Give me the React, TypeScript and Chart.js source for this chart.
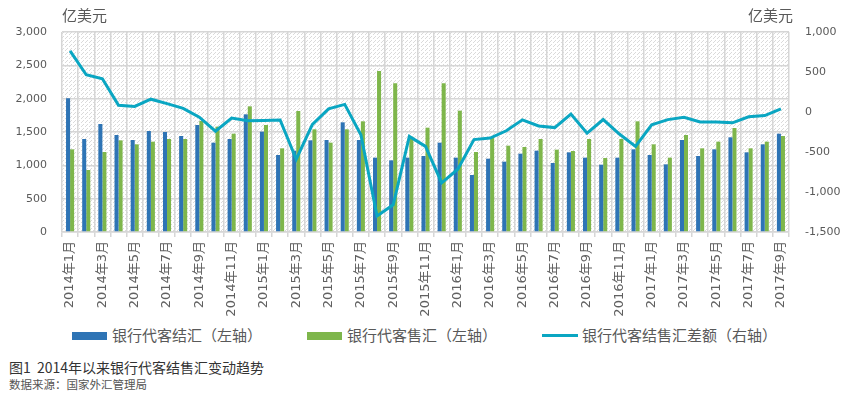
import React, { useEffect, useRef } from "react";
import { Chart, registerables } from "chart.js";

Chart.register(...registerables);

const months: string[] = [
  "2014年1月","2014年2月","2014年3月","2014年4月","2014年5月","2014年6月","2014年7月","2014年8月","2014年9月","2014年10月","2014年11月","2014年12月",
  "2015年1月","2015年2月","2015年3月","2015年4月","2015年5月","2015年6月","2015年7月","2015年8月","2015年9月","2015年10月","2015年11月","2015年12月",
  "2016年1月","2016年2月","2016年3月","2016年4月","2016年5月","2016年6月","2016年7月","2016年8月","2016年9月","2016年10月","2016年11月","2016年12月",
  "2017年1月","2017年2月","2017年3月","2017年4月","2017年5月","2017年6月","2017年7月","2017年8月","2017年9月",
];

// 银行代客结汇（左轴）
const settlement: number[] = [
  2005, 1395, 1620, 1455, 1380, 1515, 1500, 1440, 1605, 1340, 1395, 1765,
  1505, 1155, 1220, 1375, 1380, 1645, 1380, 1115, 1075, 1115, 1140, 1340,
  1115, 855, 1100, 1055, 1175, 1220, 1035, 1195, 1115, 1010, 1115, 1240,
  1155, 1015, 1380, 1140, 1240, 1420, 1195, 1315, 1475,
];

// 银行代客售汇（左轴）
const sales: number[] = [
  1240, 930, 1200, 1375, 1315, 1355, 1395, 1395, 1665, 1580, 1475, 1885,
  1605, 1255, 1815, 1540, 1340, 1540, 1660, 2415, 2230, 1430, 1565, 2230,
  1820, 1200, 1420, 1295, 1275, 1395, 1235, 1215, 1395, 1110, 1395, 1660,
  1315, 1115, 1455, 1255, 1355, 1560, 1255, 1355, 1440,
];

// 银行代客结售汇差额（右轴）
const balance: number[] = [
  765, 465, 415, 85, 70, 160, 105, 45, -65, -240, -75, -110,
  -105, -100, -590, -155, 40, 95, -285, -1300, -1160, -305, -430, -885,
  -715, -345, -325, -235, -98, -175, -195, -25, -265, -95, -275, -430,
  -160, -95, -65, -125, -125, -135, -60, -45, 40,
];

const leftTicks = { min: 0, max: 3000, step: 500 };
const rightTicks = { min: -1500, max: 1000, step: 500 };

const seriesNames = ["银行代客结汇（左轴）", "银行代客售汇（左轴）", "银行代客结售汇差额（右轴）"];
const BLUE = "#2E74B5";
const GREEN = "#7EB64B";
const TEAL = "#0AA6C2";
const GRID = "#d6d6d6";
const TEXT = "#595959";

const fmt = (v: number) => Number(v).toLocaleString("en-US");

export default function App() {
  const ref = useRef<HTMLCanvasElement | null>(null);

  useEffect(() => {
    if (!ref.current) return;
    const tile = document.createElement("canvas");
    tile.width = 4;
    tile.height = 4;
    const tctx = tile.getContext("2d")!;
    tctx.fillStyle = "#ffffff";
    tctx.fillRect(0, 0, 4, 4);
    tctx.fillStyle = "#dadada";
    tctx.fillRect(3, 0, 1, 1);
    tctx.fillRect(2, 1, 1, 1);
    tctx.fillRect(1, 2, 1, 1);

    const hatch = {
      id: "hatch",
      beforeDraw(chart: any) {
        const { ctx, chartArea } = chart;
        const pat = ctx.createPattern(tile, "repeat");
        ctx.save();
        ctx.fillStyle = pat;
        ctx.fillRect(chartArea.left, chartArea.top, chartArea.right - chartArea.left, chartArea.bottom - chartArea.top);
        ctx.restore();
      },
    };

    const chart = new Chart(ref.current, {
      type: "bar",
      data: {
        labels: months,
        datasets: [
          {
            type: "bar",
            label: seriesNames[0],
            data: settlement,
            backgroundColor: BLUE,
            yAxisID: "y",
            order: 2,
            categoryPercentage: 0.5,
            barPercentage: 1.0,
          },
          {
            type: "bar",
            label: seriesNames[1],
            data: sales,
            backgroundColor: GREEN,
            yAxisID: "y",
            order: 2,
            categoryPercentage: 0.5,
            barPercentage: 1.0,
          },
          {
            type: "line",
            label: seriesNames[2],
            data: balance,
            borderColor: TEAL,
            backgroundColor: TEAL,
            borderWidth: 3,
            pointRadius: 0,
            tension: 0,
            yAxisID: "y1",
            order: 1,
          } as any,
        ],
      },
      options: {
        responsive: false,
        animation: false,
        layout: { padding: { top: 32, left: 0, right: 0, bottom: 0 } },
        plugins: {
          legend: { display: false },
          tooltip: { enabled: false },
        },
        scales: {
          x: {
            offset: true,
            grid: {
              offset: true,
              color: GRID,
              lineWidth: 1.5,
              drawTicks: true,
              tickLength: 5,
            },
            border: { color: GRID, width: 1.5 },
            ticks: {
              autoSkip: false,
              maxRotation: 90,
              minRotation: 90,
              padding: 4,
              color: "#606060",
              font: { family: '"DejaVu Sans", "Noto Sans CJK SC", sans-serif', size: 13 },
              callback: (_v: any, i: number) => (i % 2 === 0 ? months[i] : ""),
            },
            afterFit: (s: any) => {
              s.height = 88;
            },
          },
          y: {
            position: "left",
            min: leftTicks.min,
            max: leftTicks.max,
            grid: { color: GRID, lineWidth: 1.5, drawTicks: false },
            border: { display: false },
            ticks: {
              stepSize: leftTicks.step,
              padding: 15,
              color: TEXT,
              font: { family: '"DejaVu Sans", sans-serif', size: 11 },
              callback: (v: any) => fmt(v),
            },
            afterFit: (s: any) => {
              s.width = 62;
            },
          },
          y1: {
            position: "right",
            min: rightTicks.min,
            max: rightTicks.max,
            grid: { display: false, drawTicks: false },
            border: { display: false },
            ticks: {
              stepSize: rightTicks.step,
              padding: 16,
              color: TEXT,
              font: { family: '"DejaVu Sans", sans-serif', size: 11 },
              callback: (v: any) => fmt(v),
            },
            afterFit: (s: any) => {
              s.width = 62;
            },
          },
        },
      },
      plugins: [hatch],
    });
    return () => chart.destroy();
  }, []);

  const cjk = '"Noto Sans CJK SC", sans-serif';
  const abs = (x: number, y: number): React.CSSProperties => ({
    position: "absolute",
    left: x,
    top: y,
    whiteSpace: "nowrap",
    fontFamily: cjk,
    lineHeight: 1,
  });

  return (
    <div style={{ position: "absolute", left: 0, top: 0, width: 851, height: 399, background: "#fff", overflow: "hidden" }}>
      <canvas ref={ref} width={851} height={320} style={{ position: "absolute", left: 0, top: 0, width: 851, height: 320 }} />
      <div style={{ ...abs(62, 7), fontSize: 15, color: TEXT }}>亿美元</div>
      <div style={{ ...abs(748, 7), fontSize: 15, color: TEXT }}>亿美元</div>

      <div style={{ position: "absolute", left: 72, top: 332, width: 35, height: 8, background: BLUE }} />
      <div style={{ ...abs(112, 327), fontSize: 15, color: TEXT }}>{seriesNames[0]}</div>
      <div style={{ position: "absolute", left: 307, top: 332, width: 35, height: 8, background: GREEN }} />
      <div style={{ ...abs(347, 327), fontSize: 15, color: TEXT }}>{seriesNames[1]}</div>
      <div style={{ position: "absolute", left: 542, top: 334, width: 36, height: 3, background: TEAL }} />
      <div style={{ ...abs(582, 327), fontSize: 15, color: TEXT }}>{seriesNames[2]}</div>

      <div style={{ ...abs(9, 360), fontSize: 14, color: "#333" }}>图1&nbsp;&nbsp;2014年以来银行代客结售汇变动趋势</div>
      <div style={{ ...abs(9, 379), fontSize: 11.5, color: "#555" }}>数据来源：国家外汇管理局</div>
    </div>
  );
}
